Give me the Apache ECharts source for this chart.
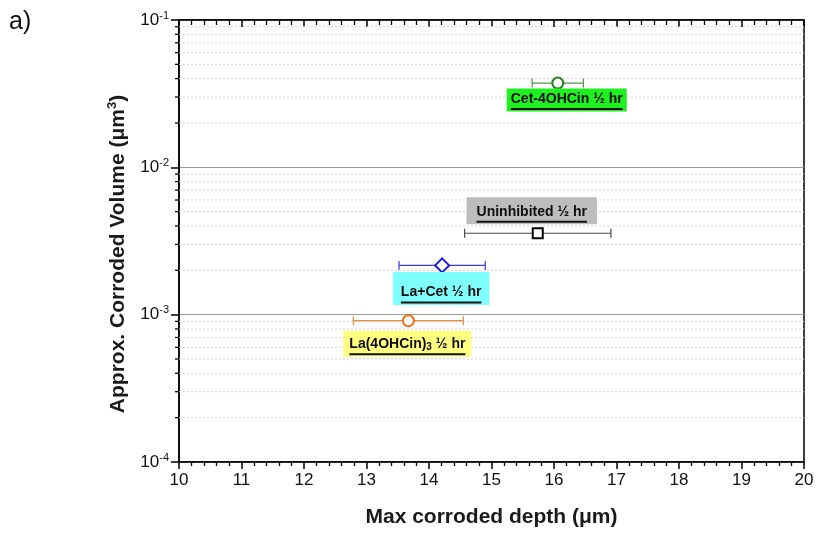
<!DOCTYPE html>
<html><head><meta charset="utf-8">
<script src="https://cdn.jsdelivr.net/npm/echarts@6/dist/echarts.min.js"></script>
<style>html,body{margin:0;padding:0;background:#fff}#c{width:818px;height:533px}</style>
</head><body><div id="c"></div>
<script>
// ---- data ----
const samples = ['Cet-4OHCin ½ hr', 'Uninhibited ½ hr', 'La+Cet ½ hr', 'La(4OHCin)3 ½ hr'];
const maxDepth = [16.06, 15.74, 14.21, 13.67];
const depthError = [0.41, 1.17, 0.69, 0.88];
const corrodedVolume = [0.0373, 0.00357, 0.00216, 0.00091];
const xTickValues = [10, 11, 12, 13, 14, 15, 16, 17, 18, 19, 20];
const yDecadeExponents = [-4, -3, -2, -1];
const yMinorMultipliers = [2, 3, 4, 5, 6, 7, 8, 9];

// ---- styles ----
const FONT = '"Liberation Sans", Arial, sans-serif';
const symbols = ['emptyCircle', 'emptyRect', 'emptyDiamond', 'emptyCircle'];
const symbolSizes = [11, 10, 14, 11];
const markerColors = ['#1f7f1f', '#000000', '#1a1ae0', '#f07010'];
const errColors = ['#4f964f', '#4a4a4a', '#3c3ce6', '#f08a3a'];
const labelBg = ['#1ff01f', '#bdbdbd', '#80ffff', '#ffff80'];
const labelOffset = [[9, 17], [-6, -22.5], [-1, 23], [-1, 23]];
const labelPadding = [[2, 4, 1, 4], [6, 10, 1, 10], [12, 8, 1, 8], [5, 6, 1, 6]];

const xMin = xTickValues[0], xMax = xTickValues[xTickValues.length - 1];
const yMin = Math.pow(10, yDecadeExponents[0]);
const yMax = Math.pow(10, yDecadeExponents[yDecadeExponents.length - 1]);
const yMinorValues = [];
yDecadeExponents.slice(0, -1).forEach(e => yMinorMultipliers.forEach(m => yMinorValues.push(+(m * Math.pow(10, e)).toPrecision(3))));

const ctx = document.createElement('canvas').getContext('2d');
function tw(str, size) { ctx.font = 'bold ' + size + 'px ' + FONT; return ctx.measureText(str).width; }

function labelText(name) {
  const m = name.match(/^(.*\))(\d)( .*)$/);
  if (m) {
    const w = tw(m[1], 14) + tw(m[2], 10) + tw(m[3], 14);
    return { text: '{t|' + m[1] + '}{sub|' + m[2] + '}{t|' + m[3] + '}\n{u|}', w: w };
  }
  return { text: '{t|' + name + '}\n{u|}', w: tw(name, 14) };
}

const series = [];
// minor grid lines + minor y ticks
series.push({
  type: 'custom', z: 1, clip: false, silent: true,
  data: yMinorValues,
  renderItem: function (params, api) {
    const v = api.value(0);
    const p = api.coord([xMin, v]);
    const q = api.coord([xMax, v]);
    return { type: 'group', children: [
      { type: 'line', shape: { x1: p[0], y1: p[1], x2: q[0], y2: q[1] }, style: { stroke: '#d4d4d4', lineWidth: 1, lineDash: [2, 2] } },
      { type: 'line', shape: { x1: p[0] - 4, y1: p[1], x2: p[0], y2: p[1] }, style: { stroke: '#000', lineWidth: 1.3 } }
    ] };
  },
  encode: { y: 0 }
});
// error bars
series.push({
  type: 'custom', z: 2, clip: false, silent: true,
  data: samples.map((s, i) => ({ value: [maxDepth[i] - depthError[i], maxDepth[i] + depthError[i], corrodedVolume[i]], itemStyle: { color: errColors[i] } })),
  encode: { x: [0, 1], y: 2 },
  renderItem: function (params, api) {
    const y = api.value(2);
    const p1 = api.coord([api.value(0), y]);
    const p2 = api.coord([api.value(1), y]);
    const c = api.visual('color');
    const st = { stroke: c, lineWidth: 1.2 };
    const h = 4.5;
    return { type: 'group', children: [
      { type: 'line', shape: { x1: p1[0], y1: p1[1], x2: p2[0], y2: p2[1] }, style: st },
      { type: 'line', shape: { x1: p1[0], y1: p1[1] - h, x2: p1[0], y2: p1[1] + h }, style: st },
      { type: 'line', shape: { x1: p2[0], y1: p2[1] - h, x2: p2[0], y2: p2[1] + h }, style: st }
    ] };
  }
});
samples.forEach((name, i) => {
  const lt = labelText(name);
  series.push({
    type: 'scatter', name: name, z: 5,
    symbol: symbols[i], symbolSize: symbolSizes[i],
    itemStyle: { color: markerColors[i], borderColor: markerColors[i], borderWidth: 2, opacity: 1 },
    data: [[maxDepth[i], corrodedVolume[i]]],
    label: {
      show: true, position: 'inside', offset: labelOffset[i],
      formatter: lt.text, opacity: 1,
      backgroundColor: labelBg[i], padding: labelPadding[i],
      align: 'center', verticalAlign: 'middle',
      textBorderWidth: 0,
      rich: {
        t: { fontFamily: FONT, fontSize: 14, fontWeight: 'bold', color: '#0d0d0d', lineHeight: 17 },
        sub: { fontFamily: FONT, fontSize: 10, fontWeight: 'bold', color: '#0d0d0d', lineHeight: 10, padding: [8, 0, 0, 0], verticalAlign: 'bottom' },
        u: { width: lt.w, height: 2, lineHeight: 3, backgroundColor: '#111' }
      }
    }
  });
});

const chart = echarts.init(document.getElementById('c'), null, { renderer: 'canvas' });
chart.setOption({
  animation: false,
  backgroundColor: '#fff',
  grid: { left: 179, right: 14, top: 20, bottom: 71, show: true, borderColor: '#000', borderWidth: 1.5, backgroundColor: 'transparent' },
  xAxis: [{
    type: 'value', min: xMin, max: xMax, interval: 1, position: 'bottom',
    name: 'Max corroded depth (μm)', nameLocation: 'middle', nameGap: 45,
    nameTextStyle: { fontFamily: FONT, fontSize: 21, fontWeight: 'bold', color: '#1a1a1a' },
    axisLine: { show: true, lineStyle: { color: '#000', width: 1.5 } },
    axisTick: { show: true, length: 7, lineStyle: { color: '#000', width: 1.5 } },
    minorTick: { show: true, splitNumber: 5, length: 4, lineStyle: { color: '#000', width: 1.3 } },
    splitLine: { show: false },
    axisLabel: { fontFamily: FONT, fontSize: 17, color: '#111', margin: 10 }
  }, {
    type: 'value', min: xMin, max: xMax, interval: 1, position: 'top',
    axisLine: { show: true, lineStyle: { color: '#000', width: 1.5 } },
    axisTick: { show: true, inside: true, length: 7, lineStyle: { color: '#000', width: 1.5 } },
    minorTick: { show: true, splitNumber: 5, length: 5, lineStyle: { color: '#000', width: 1.3 } },
    splitLine: { show: false },
    axisLabel: { show: false }
  }],
  yAxis: [{
    type: 'log', logBase: 10, min: yMin, max: yMax,
    axisLine: { show: true, lineStyle: { color: '#000', width: 1.5 } },
    axisTick: { show: true, length: 8, lineStyle: { color: '#000', width: 1.5 } },
    splitLine: { show: true, lineStyle: { color: '#9a9a9a', width: 1.2 } },
    axisLabel: {
      fontFamily: FONT, margin: 10,
      formatter: function (v) { const e = Math.round(Math.log10(v)); return '{b|10}{s|' + e + '}'; },
      rich: {
        b: { fontFamily: FONT, fontSize: 17, color: '#111', lineHeight: 20 },
        s: { fontFamily: FONT, fontSize: 11, color: '#111', lineHeight: 12, verticalAlign: 'top' }
      }
    }
  }],
  graphic: [
    { type: 'text', left: 9, top: 10, style: { text: 'a)', fontFamily: FONT, fontSize: 25, fill: '#111' } },
    { type: 'text', x: 118, y: 254, rotation: Math.PI / 2,
      style: {
        text: '{t|Approx. Corroded Volume (μm}{s|3}{t|)}', align: 'center', verticalAlign: 'middle',
        rich: {
          t: { fontFamily: FONT, fontSize: 21, fontWeight: 'bold', fill: '#1a1a1a', lineHeight: 24 },
          s: { fontFamily: FONT, fontSize: 13, fontWeight: 'bold', fill: '#1a1a1a', lineHeight: 14, verticalAlign: 'top' }
        }
      } }
  ],
  series: series
});
</script></body></html>
